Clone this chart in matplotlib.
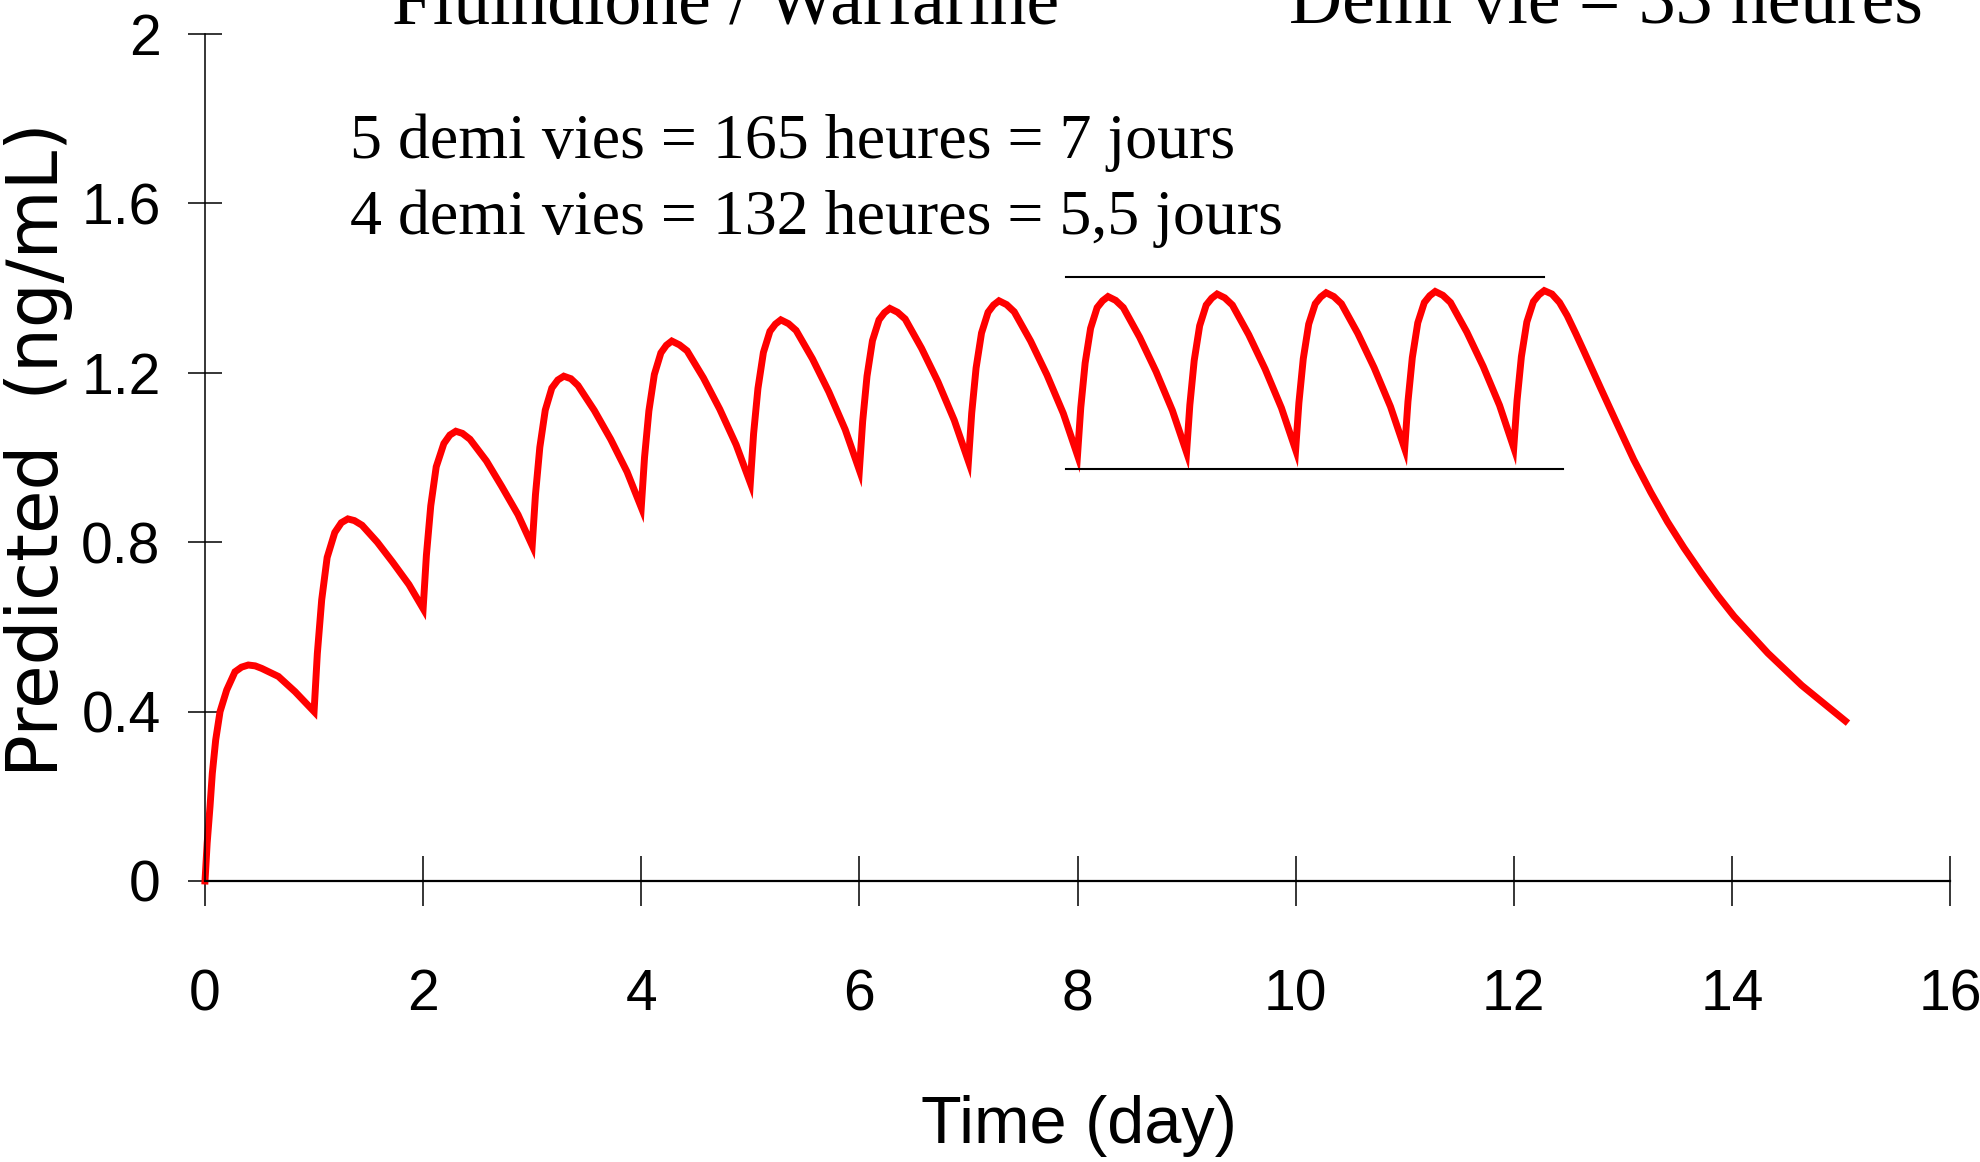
import matplotlib
matplotlib.use("Agg")
import matplotlib.pyplot as plt

# concentration curve (day, ng/mL), one row per dose
days = [0.0, 0.02, 0.046, 0.067, 0.098, 0.138, 0.199, 0.275, 0.335, 0.397, 0.46, 0.52, 0.673, 0.826, 1.0,
        1.03, 1.07, 1.12, 1.19, 1.25, 1.31, 1.37, 1.44, 1.58, 1.72, 1.87, 2.0,
        2.03, 2.07, 2.12, 2.19, 2.245, 2.30, 2.36, 2.43, 2.58, 2.72, 2.87, 3.0,
        3.03, 3.07, 3.12, 3.18, 3.235, 3.29, 3.355, 3.42, 3.57, 3.72, 3.87, 4.0,
        4.03, 4.07, 4.12, 4.18, 4.23, 4.28, 4.35, 4.42, 4.57, 4.72, 4.87, 5.0,
        5.03, 5.07, 5.12, 5.18, 5.23, 5.28, 5.35, 5.42, 5.57, 5.72, 5.87, 6.0,
        6.03, 6.07, 6.12, 6.18, 6.23, 6.28, 6.35, 6.42, 6.57, 6.72, 6.87, 7.0,
        7.03, 7.07, 7.12, 7.18, 7.23, 7.28, 7.35, 7.42, 7.57, 7.72, 7.87, 8.0,
        8.03, 8.07, 8.12, 8.18, 8.23, 8.28, 8.35, 8.42, 8.57, 8.72, 8.87, 9.0,
        9.03, 9.07, 9.12, 9.18, 9.23, 9.28, 9.35, 9.42, 9.57, 9.72, 9.87, 10.0,
        10.03, 10.07, 10.12, 10.18, 10.23, 10.28, 10.35, 10.42, 10.57, 10.72, 10.87, 11.0,
        11.03, 11.07, 11.12, 11.18, 11.23, 11.28, 11.35, 11.42, 11.57, 11.72, 11.87, 12.0,
        12.03, 12.07, 12.12, 12.18, 12.23, 12.28, 12.35, 12.42, 12.49, 12.57, 12.645, 12.80, 12.95,
        13.10, 13.256, 13.41, 13.56, 13.72, 13.87, 14.02, 14.33, 14.64, 15.04]

conc = [0.0, 0.09, 0.176, 0.254, 0.333, 0.400, 0.451, 0.494, 0.505, 0.510, 0.508, 0.502, 0.483, 0.447, 0.400,
        0.537, 0.664, 0.764, 0.823, 0.846, 0.855, 0.851, 0.840, 0.800, 0.753, 0.700, 0.643,
        0.769, 0.886, 0.978, 1.033, 1.053, 1.062, 1.057, 1.043, 0.992, 0.932, 0.865, 0.792,
        0.912, 1.024, 1.112, 1.164, 1.183, 1.192, 1.186, 1.170, 1.111, 1.043, 0.966, 0.882,
        1.000, 1.110, 1.196, 1.247, 1.265, 1.275, 1.266, 1.252, 1.188, 1.114, 1.030, 0.940,
        1.056, 1.163, 1.248, 1.298, 1.315, 1.325, 1.316, 1.300, 1.233, 1.155, 1.066, 0.970,
        1.085, 1.192, 1.276, 1.325, 1.342, 1.352, 1.343, 1.327, 1.258, 1.179, 1.088, 0.991,
        1.105, 1.211, 1.294, 1.343, 1.360, 1.370, 1.361, 1.344, 1.275, 1.195, 1.104, 1.005,
        1.118, 1.223, 1.305, 1.354, 1.370, 1.380, 1.371, 1.354, 1.284, 1.203, 1.111, 1.012,
        1.124, 1.229, 1.311, 1.360, 1.376, 1.386, 1.377, 1.360, 1.290, 1.209, 1.117, 1.018,
        1.129, 1.233, 1.315, 1.363, 1.379, 1.389, 1.380, 1.363, 1.293, 1.212, 1.120, 1.021,
        1.132, 1.236, 1.318, 1.366, 1.382, 1.392, 1.383, 1.366, 1.296, 1.215, 1.123, 1.023,
        1.134, 1.238, 1.320, 1.368, 1.384, 1.394, 1.386, 1.366, 1.335, 1.292, 1.250, 1.162, 1.078,
        0.995, 0.918, 0.848, 0.787, 0.727, 0.674, 0.625, 0.538, 0.462, 0.378]

# steady state bounds (peak / trough lines)
haut_x = [7.89, 12.28]
haut_y = 1.427
bas_x = [7.89, 12.45]
bas_y = 0.973

x_ticks = [0, 2, 4, 6, 8, 10, 12, 14, 16]
y_ticks = [0, 0.4, 0.8, 1.2, 1.6, 2.0]
y_labels = ["0", "0.4", "0.8", "1.2", "1.6", "2"]

sans = ["Liberation Sans", "DejaVu Sans"]
serif = ["Liberation Serif", "DejaVu Serif"]

fig = plt.figure(figsize=(19.81, 11.62), dpi=100)
ax = fig.add_axes([205 / 1981, 1 - 881 / 1162, 1745 / 1981, 847 / 1162])

ax.plot(days, conc, color="#ff0000", lw=5, clip_on=False, solid_joinstyle="miter")
ax.plot(haut_x, [haut_y, haut_y], color="black", lw=1.5)
ax.plot(bas_x, [bas_y, bas_y], color="black", lw=1.5)

ax.set_xlim(0, 16)
ax.set_ylim(0, 2)
for s in ["top", "right"]:
    ax.spines[s].set_visible(False)
ax.spines["left"].set_linewidth(1.1)
ax.spines["bottom"].set_linewidth(1.6)

ax.set_xticks(x_ticks)
ax.set_xticklabels([str(v) for v in x_ticks], family=sans, fontsize=41)
ax.set_yticks(y_ticks)
ax.set_yticklabels(y_labels, family=sans, fontsize=41)
ax.tick_params(axis="x", direction="inout", length=36, width=1.1, pad=45)
ax.tick_params(axis="y", direction="inout", length=24, width=1.1, pad=20)

fig.text(39 / 1981, 1 - 450 / 1162, "Predicted  (ng/mL)", rotation=90,
         ha="center", va="center", fontsize=51, family="DejaVu Sans")
fig.text(1079 / 1981, 1 - 1143 / 1162, "Time (day)", ha="center", va="baseline",
         fontsize=48, family=sans)

# titles are partly cut by the top edge, as in the original slide
fig.text(392 / 1981, 1 - 23 / 1162, "Fluindione / Warfarine", ha="left", va="baseline",
         fontsize=53, family=serif)
fig.text(1289 / 1981, 1 - 23 / 1162, "Demi vie = 33 heures", ha="left", va="baseline",
         fontsize=53, family=serif)
fig.text(350 / 1981, 1 - 158 / 1162, "5 demi vies = 165 heures = 7 jours", ha="left",
         va="baseline", fontsize=46, family=serif)
fig.text(350 / 1981, 1 - 234 / 1162, "4 demi vies = 132 heures = 5,5 jours", ha="left",
         va="baseline", fontsize=46, family=serif)

fig.savefig("out.png", dpi=100)
